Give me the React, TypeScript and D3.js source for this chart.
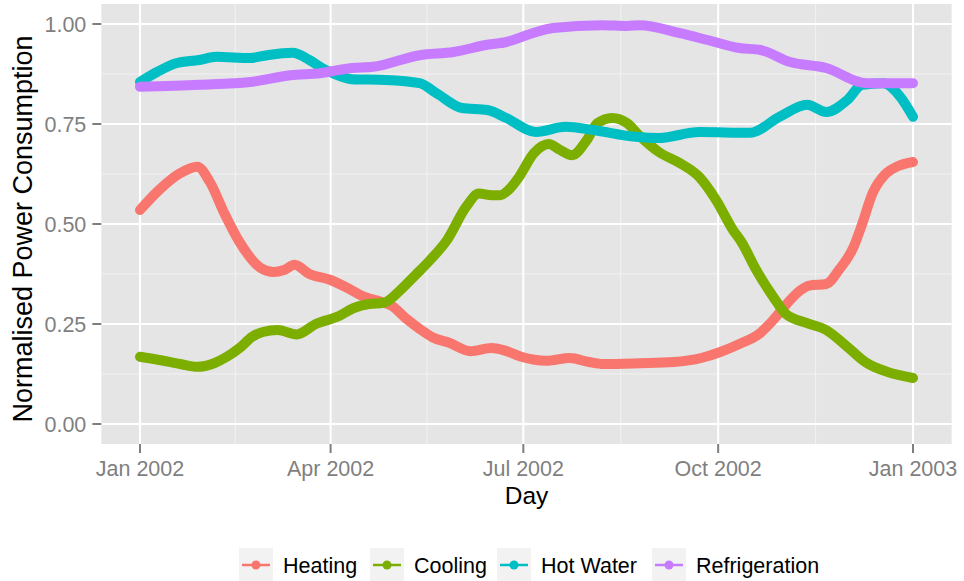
import React from "react";
import * as d3 from "d3";

// Day offsets from 1 Jan 2002 and normalised values
const heating: [number, number][] = [
  [0, 0.535], [9, 0.585], [19, 0.627], [27, 0.643], [33, 0.605], [40, 0.525], [47, 0.455],
  [57, 0.39], [63, 0.38], [68, 0.385], [73, 0.398], [80, 0.375], [90, 0.36], [98, 0.34],
  [105, 0.32], [114, 0.305], [119, 0.295], [126, 0.262], [132, 0.238], [138, 0.217],
  [146, 0.203], [156, 0.182], [166, 0.19], [172, 0.184], [180, 0.168], [192, 0.158],
  [203, 0.165], [212, 0.155], [219, 0.15], [236, 0.152], [252, 0.155], [265, 0.165],
  [274, 0.18], [283, 0.2], [293, 0.228], [299, 0.26], [305, 0.298], [312, 0.335],
  [316, 0.346], [324, 0.35], [330, 0.385], [337, 0.443], [341, 0.5], [346, 0.578],
  [352, 0.625], [358, 0.645], [365, 0.655],
];
const cooling: [number, number][] = [
  [0, 0.168], [9, 0.16], [19, 0.15], [27, 0.143], [35, 0.152], [41, 0.168], [47, 0.19],
  [53, 0.218], [58, 0.23], [65, 0.235], [74, 0.224], [83, 0.25], [94, 0.27], [101, 0.29],
  [108, 0.3], [115, 0.303], [123, 0.335], [130, 0.372], [137, 0.41], [145, 0.46],
  [154, 0.543], [160, 0.576], [166, 0.572], [170, 0.572], [174, 0.585], [179, 0.618],
  [186, 0.677], [193, 0.7], [198, 0.686], [204, 0.672], [211, 0.71], [216, 0.752],
  [223, 0.765], [230, 0.752], [236, 0.72], [245, 0.68], [255, 0.652], [264, 0.618],
  [272, 0.56], [280, 0.485], [284, 0.455], [291, 0.385], [299, 0.318], [305, 0.275],
  [315, 0.252], [324, 0.235], [334, 0.193], [343, 0.153], [353, 0.13], [365, 0.115],
];
const hotWater: [number, number][] = [
  [0, 0.855], [8, 0.88], [17, 0.902], [28, 0.91], [36, 0.918], [52, 0.915], [60, 0.922],
  [72, 0.928], [80, 0.91], [86, 0.89], [91, 0.877], [100, 0.862], [116, 0.86], [132, 0.852],
  [140, 0.827], [152, 0.79], [164, 0.785], [173, 0.765], [187, 0.73], [201, 0.743],
  [214, 0.735], [234, 0.718], [245, 0.715], [264, 0.73], [288, 0.728], [302, 0.768],
  [315, 0.798], [324, 0.78], [334, 0.81], [341, 0.848], [351, 0.852], [359, 0.818],
  [365, 0.768],
];
const refrigeration: [number, number][] = [
  [0, 0.843], [28, 0.848], [52, 0.855], [71, 0.872], [85, 0.877], [100, 0.89], [110, 0.893],
  [132, 0.922], [148, 0.93], [164, 0.948], [173, 0.955], [186, 0.978], [195, 0.99],
  [218, 0.997], [230, 0.995], [236, 0.997], [255, 0.977], [268, 0.96], [283, 0.94],
  [293, 0.935], [307, 0.905], [324, 0.89], [343, 0.852], [365, 0.852],
];

const seriesNames = ["Heating", "Cooling", "Hot Water", "Refrigeration"];
const seriesData = [heating, cooling, hotWater, refrigeration];
const seriesColors = ["#F8766D", "#7CAE00", "#00BFC4", "#C77CFF"];
const xTickLabels = ["Jan 2002", "Apr 2002", "Jul 2002", "Oct 2002", "Jan 2003"];
const yTicks = [0, 0.25, 0.5, 0.75, 1.0];

const start = new Date(2002, 0, 1);
const end = new Date(2003, 0, 1);
const xTickDates = [
  new Date(2002, 0, 1), new Date(2002, 3, 1), new Date(2002, 6, 1),
  new Date(2002, 9, 1), new Date(2003, 0, 1),
];

export default function App() {
  const W = 964, H = 581;
  const x = d3.scaleTime().domain([start, end]).range([140, 913]);
  const y = d3.scaleLinear().domain([0, 1]).range([424, 24]);
  const span = 913 - 140;
  const px0 = 140 - span * 0.05, px1 = 913 + span * 0.05;
  const py0 = y(1) - 20, py1 = y(0) + 20;

  const minorX = xTickDates.slice(1).map((d, i) => new Date((d.getTime() + xTickDates[i].getTime()) / 2));
  const minorY = yTicks.slice(1).map((v, i) => (v + yTicks[i]) / 2);

  const line = d3.line<[number, number]>()
    .x((d) => x(d3.timeDay.offset(start, d[0])))
    .y((d) => y(d[1]))
    .curve(d3.curveMonotoneX);

  const font = "'Liberation Sans', Arial, Helvetica, sans-serif";
  const legendKeyX = [239, 370, 497, 652];
  const legendY = 565;

  return (
    <svg width={W} height={H} style={{ position: "absolute", left: 0, top: 0, background: "#fff" }} fontFamily={font}>
      <rect x={px0} y={py0} width={px1 - px0} height={py1 - py0} fill="#E5E5E5" />
      {minorY.map((v) => (
        <line key={"my" + v} x1={px0} x2={px1} y1={y(v)} y2={y(v)} stroke="#F2F2F2" strokeWidth={1} />
      ))}
      {minorX.map((d, i) => (
        <line key={"mx" + i} x1={x(d)} x2={x(d)} y1={py0} y2={py1} stroke="#F2F2F2" strokeWidth={1} />
      ))}
      {yTicks.map((v) => (
        <line key={"gy" + v} x1={px0} x2={px1} y1={y(v)} y2={y(v)} stroke="#FFFFFF" strokeWidth={2} />
      ))}
      {xTickDates.map((d, i) => (
        <line key={"gx" + i} x1={x(d)} x2={x(d)} y1={py0} y2={py1} stroke="#FFFFFF" strokeWidth={2} />
      ))}
      {seriesData.map((s, i) => (
        <path key={seriesNames[i]} d={line(s) || ""} fill="none" stroke={seriesColors[i]}
          strokeWidth={10} strokeLinecap="round" strokeLinejoin="round" />
      ))}
      {/* y axis */}
      {yTicks.map((v) => (
        <g key={"ty" + v}>
          <line x1={px0 - 9} x2={px0} y1={y(v)} y2={y(v)} stroke="#7F7F7F" strokeWidth={2} />
          <text x={px0 - 15} y={y(v)} dy="0.36em" textAnchor="end" fontSize={21.5} fill="#7F7F7F">
            {d3.format(".2f")(v)}
          </text>
        </g>
      ))}
      {/* x axis */}
      {xTickDates.map((d, i) => (
        <g key={"tx" + i}>
          <line x1={x(d)} x2={x(d)} y1={py1} y2={py1 + 9} stroke="#7F7F7F" strokeWidth={2} />
          <text x={x(d)} y={476} textAnchor="middle" fontSize={21.5} fill="#7F7F7F">
            {xTickLabels[i]}
          </text>
        </g>
      ))}
      <text x={(px0 + px1) / 2} y={504} textAnchor="middle" fontSize={24.5} fill="#000">Day</text>
      <text transform={`translate(32, ${(py0 + py1) / 2 + 5}) rotate(-90)`} textAnchor="middle" fontSize={27} fill="#000">
        Normalised Power Consumption
      </text>
      {/* legend */}
      {seriesNames.map((n, i) => {
        const kx = legendKeyX[i];
        return (
          <g key={"lg" + n}>
            <rect x={kx} y={legendY - 17} width={34} height={34} fill="#F2F2F2" />
            <line x1={kx + 3} x2={kx + 31} y1={legendY} y2={legendY} stroke={seriesColors[i]} strokeWidth={2.5} />
            <circle cx={kx + 17} cy={legendY} r={4.5} fill={seriesColors[i]} />
            <text x={kx + 44} y={legendY} dy="0.36em" fontSize={21.5} fill="#000">{n}</text>
          </g>
        );
      })}
    </svg>
  );
}
